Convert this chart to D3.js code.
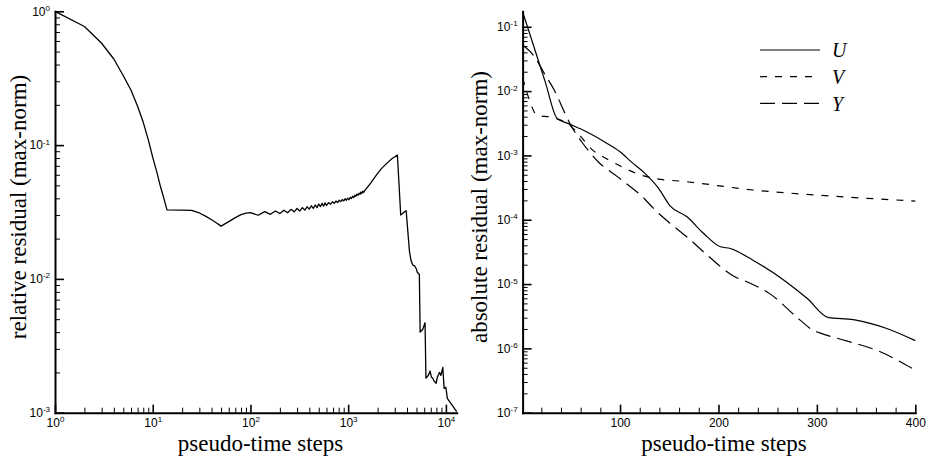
<!DOCTYPE html>
<html>
<head>
<meta charset="utf-8">
<title>Residual history</title>
<script src="https://d3js.org/d3.v7.min.js"></script>
<style>
    body { margin: 0; background: #fff; }
</style>
</head>
<body>
<script>
// left panel: relative residual vs pseudo-time steps (log-log)
const leftSteps = [1, 2, 3, 4, 5, 6, 7, 8, 9, 10, 11, 12, 13, 14, 20, 25, 30, 35, 40, 45, 50, 60, 70, 80, 90,
    100, 120, 140, 160, 180, 200, 220, 240, 260, 280, 300, 320, 340, 360, 380, 400, 420, 440, 460, 480,
    500, 520, 540, 560, 580, 600, 630, 660, 690, 720, 750, 780, 810, 840, 870, 900, 930, 960, 990,
    1020, 1050, 1080, 1110, 1140, 1170, 1200, 1230, 1260, 1290, 1320, 1350, 1380, 1410, 1440,
    1470, 1700, 1950, 2200, 2480, 2800, 3190, 3450, 3700, 3920, 4240, 4400, 4580, 4800, 5000, 5100,
    5350, 5450, 5800, 6120, 6250, 6600, 6890, 7100, 7340, 7600, 7940, 8200, 8590, 8900, 9300, 9590,
    10000, 10340, 12900];
const leftResid = [1.0, 0.77, 0.577, 0.44, 0.33, 0.257, 0.195, 0.148, 0.11, 0.081, 0.063, 0.049, 0.040, 0.0328,
    0.0327, 0.0325, 0.0311, 0.0293, 0.0277, 0.0262, 0.0248, 0.0268, 0.0287, 0.0302, 0.0310,
    0.0313, 0.0299, 0.0318, 0.0304, 0.0322, 0.0308, 0.0326, 0.0312, 0.0331, 0.0317, 0.0336, 0.0322,
    0.0341, 0.0327, 0.0346, 0.0332, 0.0352, 0.0336, 0.0357, 0.0341,
    0.0363, 0.0347, 0.0367, 0.0350, 0.0370, 0.0354, 0.0371, 0.0362, 0.0377, 0.0367, 0.0382, 0.0372,
    0.0387, 0.0378, 0.0392, 0.0383, 0.0397, 0.0387, 0.0401,
    0.0391, 0.0407, 0.0399, 0.0415, 0.0406, 0.0422, 0.0414, 0.0430, 0.0421, 0.0437, 0.0428, 0.0446,
    0.0435, 0.0453, 0.0443,
    0.0455, 0.052, 0.060, 0.067, 0.073, 0.079, 0.0843, 0.0300, 0.0314, 0.0323, 0.0160, 0.0137, 0.0127,
    0.0125, 0.0118, 0.0112,
    0.0108, 0.0040, 0.0042, 0.0047, 0.00181, 0.00190, 0.00205, 0.00185, 0.00181, 0.00172, 0.00166,
    0.00185, 0.00200, 0.00190, 0.00218, 0.00152,
    0.00155, 0.00128, 0.00102];

// right panel: absolute residuals of U, V, Y
const uSteps = [1, 12, 24, 36, 47, 66, 84, 100, 112, 125, 139, 151, 168, 185, 202, 212, 235, 269, 290, 312, 337, 371, 400];
const uResid = [0.171, 0.0515, 0.0139, 0.00376, 0.00315, 0.00233, 0.00163, 0.00114, 0.00078, 0.00053, 0.00031, 0.000163,
    0.000111, 6.1e-5, 3.8e-5, 3.57e-5, 2.35e-5, 1.08e-5, 6.0e-6, 3.0e-6, 2.8e-6, 2.04e-6, 1.32e-6];

const vSteps = [1, 7, 15, 20, 27, 36, 47, 55, 72, 88, 105, 122, 135, 168, 235, 303, 400];
const vResid = [0.016, 0.008, 0.0043, 0.0041, 0.0040, 0.0037, 0.0031, 0.0024, 0.00122, 0.00086, 0.00063,
    0.00049, 0.00044, 0.00039, 0.00029, 0.00024, 0.000195];

const ySteps = [1, 12, 24, 34, 45, 52, 61, 78, 98, 125, 134, 150, 168, 190, 217, 225, 252, 283, 296, 303, 330, 361, 400];
const yResid = [0.052, 0.036, 0.0178, 0.0098, 0.0042, 0.0026, 0.00163, 0.00079, 0.00046, 0.00021, 0.00015,
    9.0e-5, 5.4e-5, 2.7e-5, 1.29e-5, 1.15e-5, 7.1e-6, 2.75e-6, 1.92e-6, 1.74e-6, 1.31e-6, 9.3e-7, 4.6e-7];

// ticks
const leftXTicks = [1, 10, 100, 1000, 10000];
const leftYTicks = [1e-3, 1e-2, 1e-1, 1];
const rightXTicks = [100, 200, 300, 400];
const rightXMinor = [20, 40, 60, 80, 120, 140, 160, 180, 220, 240, 260, 280, 320, 340, 360, 380];
const rightYTicks = [1e-7, 1e-6, 1e-5, 1e-4, 1e-3, 1e-2, 1e-1];

const legendLabels = ["U", "V", "Y"];
const legendDash = [null, "7,8", "15,7"];

const SANS = '"Liberation Sans", Arial, Helvetica, sans-serif';
const SERIF = '"Liberation Serif", "Times New Roman", Times, serif';

const W = 928, H = 459;
const plotTop = 11.3, plotBottom = 412.7;

const svg = d3.select("body").append("svg")
    .attr("width", W)
    .attr("height", H);

// scales
const xL = d3.scaleLog().domain([1, 12900]).range([55, 456.7]);
const yL = d3.scaleLog().domain([1e-3, 1]).range([plotBottom, plotTop]);
const xR = d3.scaleLinear().domain([1, 400]).range([522.6, 915.3]);
const yR = d3.scaleLog().domain([1e-7, 0.174]).range([plotBottom, plotTop]);

// 2..9 in every decade between lo and hi
function logMinor(lo, hi) {
    const t = [];
    for (let e = Math.floor(Math.log10(lo)); e <= Math.ceil(Math.log10(hi)); e++) {
        for (let m = 2; m <= 9; m++) {
            const v = m * Math.pow(10, e);
            if (v >= lo && v <= hi) t.push(v);
        }
    }
    return t;
}

function tickFont(sel) {
    sel.style("font-family", SANS).style("font-size", "12px").attr("fill", "#000");
}

// "10" with exponent as superscript
function powLabel(sel) {
    sel.each(function (d) {
        const e = Math.round(Math.log10(d));
        const t = d3.select(this).call(tickFont).text("10");
        t.append("tspan").attr("dy", "-0.6em").style("font-size", "8px").text(e);
    });
}

function drawAxis(axis, transform, minor) {
    const g = svg.append("g")
        .attr("transform", transform)
        .call(axis);
    if (minor) {
        g.select(".domain").remove();
        g.selectAll(".tick line").attr("stroke-width", 1);
    } else {
        g.select(".domain").attr("stroke-width", 2).attr("stroke-linecap", "square");
        g.selectAll(".tick line").attr("stroke-width", 1.6);
    }
    return g;
}

// ---- left panel axes
drawAxis(d3.axisBottom(xL).tickValues(logMinor(1, 12900)).tickSize(-5).tickSizeOuter(0).tickFormat(""),
    `translate(0,${plotBottom})`, true);
drawAxis(d3.axisLeft(yL).tickValues(logMinor(1e-3, 1)).tickSize(-5).tickSizeOuter(0).tickFormat(""),
    `translate(55,0)`, true);
drawAxis(d3.axisBottom(xL).tickValues(leftXTicks).tickSize(-8).tickSizeOuter(0).tickPadding(6),
    `translate(0,${plotBottom})`, false)
    .selectAll(".tick text").call(powLabel);
drawAxis(d3.axisLeft(yL).tickValues(leftYTicks).tickSize(-9).tickSizeOuter(0).tickPadding(5),
    `translate(55,0)`, false)
    .selectAll(".tick text").call(powLabel);

// ---- right panel axes
drawAxis(d3.axisBottom(xR).tickValues(rightXMinor).tickSize(-5).tickSizeOuter(0).tickFormat(""),
    `translate(0,${plotBottom})`, true);
drawAxis(d3.axisLeft(yR).tickValues(logMinor(1e-7, 0.174)).tickSize(-5).tickSizeOuter(0).tickFormat(""),
    `translate(522.6,0)`, true);
drawAxis(d3.axisBottom(xR).tickValues(rightXTicks).tickSize(-8).tickSizeOuter(0).tickPadding(6),
    `translate(0,${plotBottom})`, false)
    .selectAll(".tick text").call(tickFont);
drawAxis(d3.axisLeft(yR).tickValues(rightYTicks).tickSize(-9).tickSizeOuter(0).tickPadding(5),
    `translate(522.6,0)`, false)
    .selectAll(".tick text").call(powLabel);

// ---- curves
const leftLine = d3.line()
    .x(d => xL(d[0]))
    .y(d => yL(d[1]));

svg.append("path")
    .datum(d3.zip(leftSteps, leftResid))
    .attr("d", leftLine)
    .attr("fill", "none")
    .attr("stroke", "#000")
    .attr("stroke-width", 1.3)
    .attr("stroke-linejoin", "round");

const rightLine = d3.line()
    .x(d => xR(d[0]))
    .y(d => yR(d[1]))
    .curve(d3.curveMonotoneX);

const rightSeries = [
    d3.zip(uSteps, uResid),
    d3.zip(vSteps, vResid),
    d3.zip(ySteps, yResid)
];

svg.selectAll(".series")
    .data(rightSeries)
    .enter()
    .append("path")
    .attr("class", "series")
    .attr("d", rightLine)
    .attr("fill", "none")
    .attr("stroke", "#000")
    .attr("stroke-width", 1.2)
    .attr("stroke-dasharray", (d, i) => legendDash[i]);

// ---- legend
const legend = svg.append("g").attr("transform", "translate(760,50)");
legendLabels.forEach(function (lab, i) {
    legend.append("line")
        .attr("x1", 0).attr("x2", 60)
        .attr("y1", i * 26.7).attr("y2", i * 26.7)
        .attr("stroke", "#000")
        .attr("stroke-width", 1.2)
        .attr("stroke-dasharray", legendDash[i]);
    legend.append("text")
        .attr("x", 72)
        .attr("y", i * 26.7)
        .attr("dy", "0.36em")
        .style("font-family", SERIF)
        .style("font-size", "20px")
        .style("font-style", "italic")
        .text(lab);
});

// ---- axis titles
function title(x, y, rot, txt) {
    svg.append("text")
        .attr("transform", `translate(${x},${y})` + (rot ? " rotate(-90)" : ""))
        .attr("text-anchor", "middle")
        .style("font-family", SERIF)
        .style("font-size", "23px")
        .attr("fill", "#000")
        .text(txt);
}
title(260.5, 451, false, "pseudo-time steps");
title(724, 451, false, "pseudo-time steps");
title(26, 207, true, "relative residual (max-norm)");
title(487, 207, true, "absolute residual (max-norm)");
</script>
</body>
</html>
